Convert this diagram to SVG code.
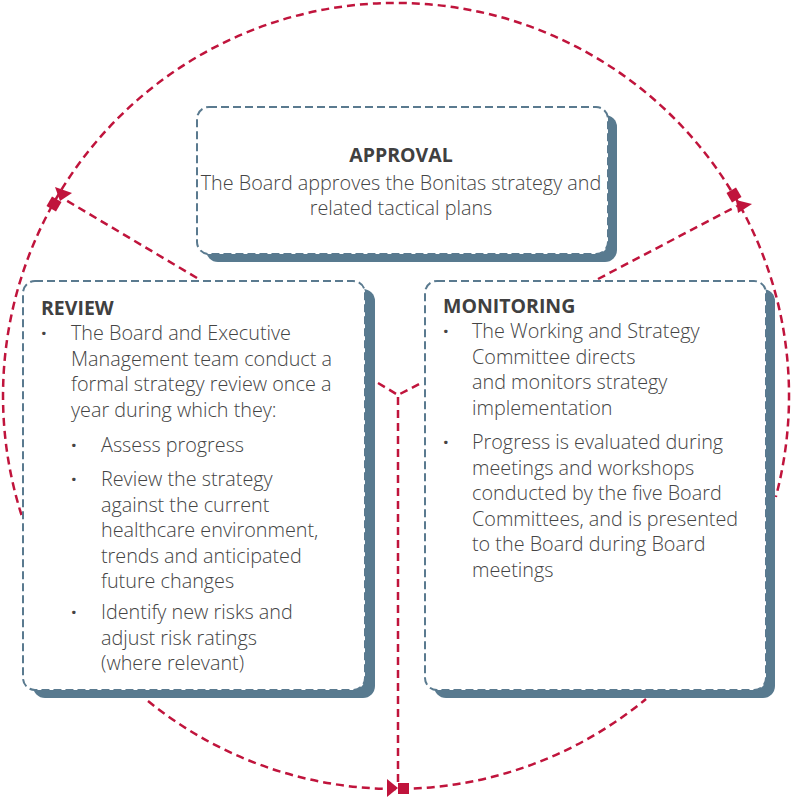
<svg xmlns="http://www.w3.org/2000/svg" width="792" height="799" viewBox="0 0 792 799">
<style>
.shadow{fill:#587a8f}
.box{fill:#ffffff;stroke:#5a7a8f;stroke-width:2;stroke-dasharray:8 4}
.red{fill:none;stroke:#c0143c;stroke-width:2.5;stroke-dasharray:8 5}
.mk{fill:#c0143c}
text{font-family:"Open Sans","Noto Sans","Liberation Sans",sans-serif;fill:#444444;font-size:19.8px;font-weight:300}
.h{font-weight:700;fill:#404040;font-size:19.5px}
.c{text-anchor:middle}
.b{font-weight:700}
</style>
<rect width="792" height="799" fill="#ffffff"/>
<g id="connectors">
<path class="red" d="M 21.5 515 A 393 393 0 1 1 775.8 497"/>
<path class="red" d="M 148 701 A 393 393 0 0 0 646 699"/>
<path class="red" d="M 197 278 L 64 199"/>
<path class="red" d="M 598 279 L 737 206"/>
<path class="red" d="M 378 383 L 398 395 L 423 382"/>
<path class="red" d="M 398 397 L 398 783"/>
<polygon class="mk" points="55,187 72,193 60,201"/>
<rect class="mk" x="-5.5" y="-5.5" width="11" height="11" transform="translate(54 204) rotate(30)"/>
<polygon class="mk" points="736,200 752,204 738,213"/>
<rect class="mk" x="-5.5" y="-5.5" width="11" height="11" transform="translate(734 195) rotate(-30)"/>
<polygon class="mk" points="387,779 398,788 387,797"/>
<rect class="mk" x="398" y="783" width="11" height="11"/>
</g>
<g id="approval">
<rect class="shadow" x="206" y="115" width="411" height="147" rx="12"/>
<rect class="box" x="197" y="107" width="411" height="147" rx="12"/>
<text class="h c" x="401" y="162">APPROVAL</text>
<text class="c" x="401" y="190">The Board approves the Bonitas strategy and</text>
<text class="c" x="401" y="215">related tactical plans</text>
</g>
<g id="review">
<rect class="shadow" x="33" y="289" width="342" height="409" rx="12"/>
<rect class="box" x="23" y="281" width="342" height="409" rx="12"/>
<text class="h" x="41" y="315">REVIEW</text>
<text class="b" x="41" y="340">·</text>
<text x="71" y="340">The Board and Executive</text>
<text x="71" y="365.5">Management team conduct a</text>
<text x="71" y="391">formal strategy review once a</text>
<text x="71" y="416.5">year during which they:</text>
<text class="b" x="71" y="452">·</text>
<text x="101" y="452">Assess progress</text>
<text class="b" x="71" y="486">·</text>
<text x="101" y="486">Review the strategy</text>
<text x="101" y="511.5">against the current</text>
<text x="101" y="537">healthcare environment,</text>
<text x="101" y="562.5">trends and anticipated</text>
<text x="101" y="588">future changes</text>
<text class="b" x="71" y="619">·</text>
<text x="101" y="619">Identify new risks and</text>
<text x="101" y="644.5">adjust risk ratings</text>
<text x="101" y="670">(where relevant)</text>
</g>
<g id="monitoring">
<rect class="shadow" x="434" y="289" width="341" height="409" rx="12"/>
<rect class="box" x="425" y="281" width="341" height="409" rx="12"/>
<text class="h" x="443" y="313">MONITORING</text>
<text class="b" x="443" y="338">·</text>
<text x="472" y="338">The Working and Strategy</text>
<text x="472" y="363.5">Committee directs</text>
<text x="472" y="389">and monitors strategy</text>
<text x="472" y="414.5">implementation</text>
<text class="b" x="443" y="449">·</text>
<text x="472" y="449">Progress is evaluated during</text>
<text x="472" y="474.5">meetings and workshops</text>
<text x="472" y="500">conducted by the five Board</text>
<text x="472" y="525.5">Committees, and is presented</text>
<text x="472" y="551">to the Board during Board</text>
<text x="472" y="576.5">meetings</text>
</g>
</svg>
